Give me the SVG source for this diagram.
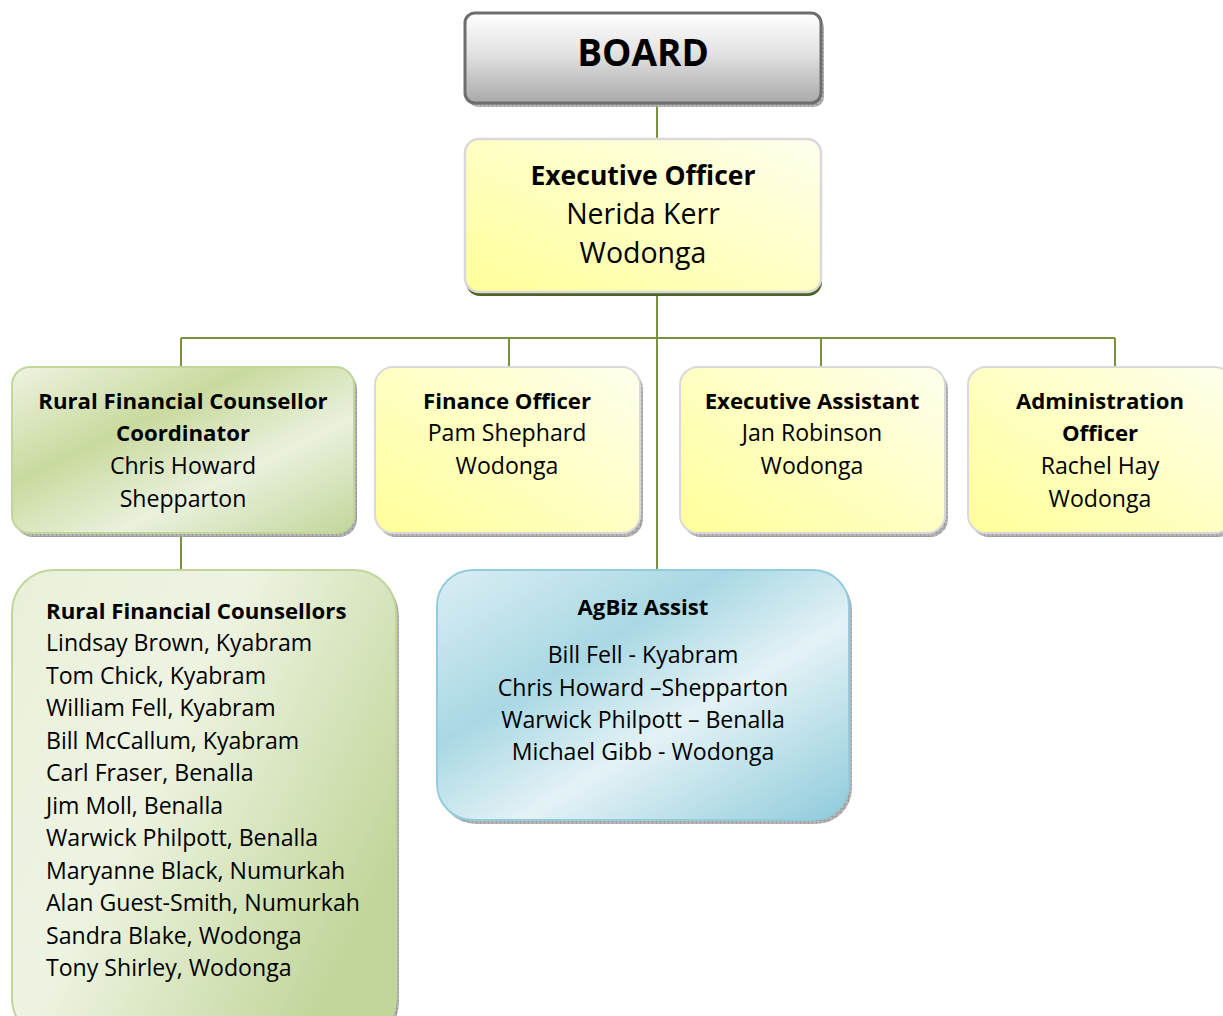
<svg xmlns="http://www.w3.org/2000/svg" width="1223" height="1016" viewBox="0 0 1223 1016">
<defs>
<linearGradient id="gGrey" x1="0" y1="0" x2="0" y2="1">
<stop offset="0" stop-color="#ffffff"/>
<stop offset="0.45" stop-color="#e2e2e2"/>
<stop offset="1" stop-color="#a9a9a9"/>
</linearGradient>
<linearGradient id="gYellow" x1="0" y1="1" x2="1" y2="0">
<stop offset="0" stop-color="#ffff99"/>
<stop offset="0.6" stop-color="#ffffcc"/>
<stop offset="1" stop-color="#ffffee"/>
</linearGradient>
<linearGradient id="gGreen" x1="0" y1="0" x2="1" y2="1">
<stop offset="0" stop-color="#eef3e2"/>
<stop offset="0.35" stop-color="#c9da9e"/>
<stop offset="0.65" stop-color="#eaf1dd"/>
<stop offset="1" stop-color="#c2d69b"/>
</linearGradient>
<linearGradient id="gGreenTall" x1="0" y1="0" x2="1" y2="0.6">
<stop offset="0" stop-color="#e9f0da"/>
<stop offset="0.45" stop-color="#eef4e2"/>
<stop offset="1" stop-color="#c2d69b"/>
</linearGradient>
<linearGradient id="gBlue" x1="0" y1="0" x2="1" y2="1">
<stop offset="0" stop-color="#dbeef4"/>
<stop offset="0.35" stop-color="#a9d8e4"/>
<stop offset="0.6" stop-color="#e4f2f6"/>
<stop offset="1" stop-color="#8ecbdb"/>
</linearGradient>
<pattern id="hatch" width="4" height="4" patternUnits="userSpaceOnUse">
<rect width="4" height="4" fill="#b5b5b5"/>
<path d="M0 0H4M0 0V4" stroke="#8d8d8d" stroke-width="1"/>
</pattern>
</defs>
<style>
.t{font-family:"Open Sans","Liberation Sans",sans-serif;fill:#000;font-size:23.1px;}
.b{font-weight:bold;font-size:22.2px;}
.c{text-anchor:middle;}
.r28{font-size:28.5px;}
.b28{font-weight:bold;font-size:26.5px;}
.b37{font-weight:bold;font-size:37px;}
.conn{stroke:#77933c;stroke-width:2;fill:none;}
.shadow{fill:url(#hatch);}
</style>
<rect width="1223" height="1016" fill="#ffffff"/>
<g id="connectors">
<path class="conn" d="M657 103V139"/>
<path class="conn" d="M657 293V570"/>
<path class="conn" d="M181 338H1115"/>
<path class="conn" d="M181 338V367"/>
<path class="conn" d="M509 338V367"/>
<path class="conn" d="M821 338V367"/>
<path class="conn" d="M1115 338V367"/>
<path class="conn" d="M181 533V570"/>
</g>
<g id="board">
<rect class="shadow" x="468" y="17" width="356" height="90" rx="10"/>
<rect x="465" y="13" width="356" height="90" rx="10" fill="url(#gGrey)" stroke="#6e6e6e" stroke-width="3"/>
<text class="t b37 c" x="643" y="66">BOARD</text>
</g>
<g id="executive-officer">
<rect x="466" y="143" width="356" height="153" rx="14" fill="#4f6228"/>
<rect x="465" y="139" width="356" height="153" rx="14" fill="url(#gYellow)" stroke="#d9d9d9" stroke-width="2.5"/>
<text class="t b28 c" x="643" y="185">Executive Officer</text>
<text class="t r28 c" x="643" y="224">Nerida Kerr</text>
<text class="t r28 c" x="643" y="263">Wodonga</text>
</g>
<g id="rfc-coordinator">
<rect class="shadow" x="15" y="371" width="342" height="166" rx="18"/>
<rect x="12" y="367" width="342" height="166" rx="18" fill="url(#gGreen)" stroke="#c2d69b" stroke-width="2"/>
<text class="t b c" x="183" y="409">Rural Financial Counsellor</text>
<text class="t b c" x="183" y="441">Coordinator</text>
<text class="t c" x="183" y="474">Chris Howard</text>
<text class="t c" x="183" y="507">Shepparton</text>
</g>
<g id="finance-officer">
<rect class="shadow" x="378" y="371" width="265" height="166" rx="18"/>
<rect x="375" y="367" width="265" height="166" rx="18" fill="url(#gYellow)" stroke="#d9d9d9" stroke-width="2"/>
<text class="t b c" x="507" y="409">Finance Officer</text>
<text class="t c" x="507" y="441">Pam Shephard</text>
<text class="t c" x="507" y="474">Wodonga</text>
</g>
<g id="executive-assistant">
<rect class="shadow" x="683" y="371" width="265" height="166" rx="18"/>
<rect x="680" y="367" width="265" height="166" rx="18" fill="url(#gYellow)" stroke="#d9d9d9" stroke-width="2"/>
<text class="t b c" x="812" y="409">Executive Assistant</text>
<text class="t c" x="812" y="441">Jan Robinson</text>
<text class="t c" x="812" y="474">Wodonga</text>
</g>
<g id="administration-officer">
<rect class="shadow" x="971" y="371" width="265" height="166" rx="18"/>
<rect x="968" y="367" width="265" height="166" rx="18" fill="url(#gYellow)" stroke="#d9d9d9" stroke-width="2"/>
<text class="t b c" x="1100" y="409">Administration</text>
<text class="t b c" x="1100" y="441">Officer</text>
<text class="t c" x="1100" y="474">Rachel Hay</text>
<text class="t c" x="1100" y="507">Wodonga</text>
</g>
<g id="rural-financial-counsellors">
<rect class="shadow" x="15" y="574" width="384" height="470" rx="42"/>
<rect x="12" y="570" width="384" height="470" rx="42" fill="url(#gGreenTall)" stroke="#c2d69b" stroke-width="2"/>
<text class="t b" x="46" y="619">Rural Financial Counsellors</text>
<text class="t" x="46" y="651">Lindsay Brown, Kyabram</text>
<text class="t" x="46" y="684">Tom Chick, Kyabram</text>
<text class="t" x="46" y="716">William Fell, Kyabram</text>
<text class="t" x="46" y="749">Bill McCallum, Kyabram</text>
<text class="t" x="46" y="781">Carl Fraser, Benalla</text>
<text class="t" x="46" y="814">Jim Moll, Benalla</text>
<text class="t" x="46" y="846">Warwick Philpott, Benalla</text>
<text class="t" x="46" y="879">Maryanne Black, Numurkah</text>
<text class="t" x="46" y="911">Alan Guest-Smith, Numurkah</text>
<text class="t" x="46" y="944">Sandra Blake, Wodonga</text>
<text class="t" x="46" y="976">Tony Shirley, Wodonga</text>
</g>
<g id="agbiz-assist">
<rect class="shadow" x="440" y="574" width="412" height="250" rx="36"/>
<rect x="437" y="570" width="412" height="250" rx="36" fill="url(#gBlue)" stroke="#93cddd" stroke-width="2"/>
<text class="t b c" x="643" y="615">AgBiz Assist</text>
<text class="t c" x="643" y="663">Bill Fell - Kyabram</text>
<text class="t c" x="643" y="696">Chris Howard –Shepparton</text>
<text class="t c" x="643" y="728">Warwick Philpott – Benalla</text>
<text class="t c" x="643" y="760">Michael Gibb - Wodonga</text>
</g>
</svg>
